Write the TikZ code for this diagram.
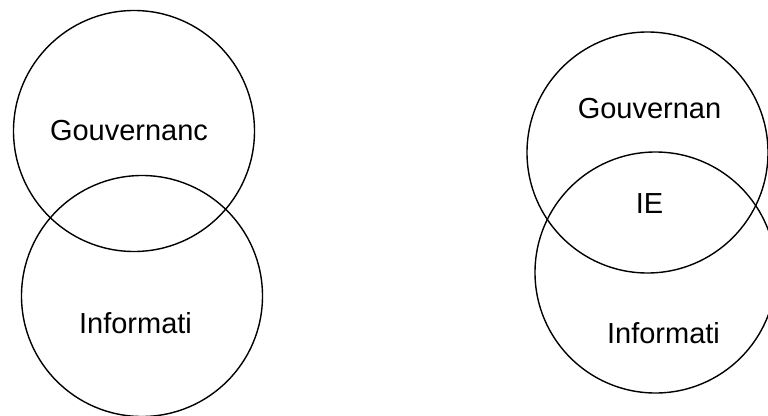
\documentclass[tikz,border=0pt]{standalone}
\usepackage{fontspec}
\setmainfont{Liberation Sans}
\begin{document}
\begin{tikzpicture}[x=1pt,y=-1pt,
  ring/.style={draw=black,line width=1.4pt,circle,minimum size=241pt,inner sep=0pt},
  label/.style={inner sep=0pt,font=\fontsize{29}{34}\selectfont}]
\clip (0,0) rectangle (768,415);
\useasboundingbox (0,0) rectangle (768,415);
% left pair
\node[ring] (lg) at (134,131) {};
\node[ring] (li) at (142,296) {};
\node[label] (lgt) at (129,131) {Gouvernanc};
\node[label] (lit) at (135.5,323) {Informati};
% right pair
\node[ring] (rg) at (647.5,152.5) {};
\node[ring] (ri) at (655.5,272.5) {};
\node[label] (rgt) at (649.5,108.5) {Gouvernan};
\node[label] (rie) at (649.5,204) {IE};
\node[label] (rit) at (663.5,333) {Informati};
\end{tikzpicture}
\end{document}
